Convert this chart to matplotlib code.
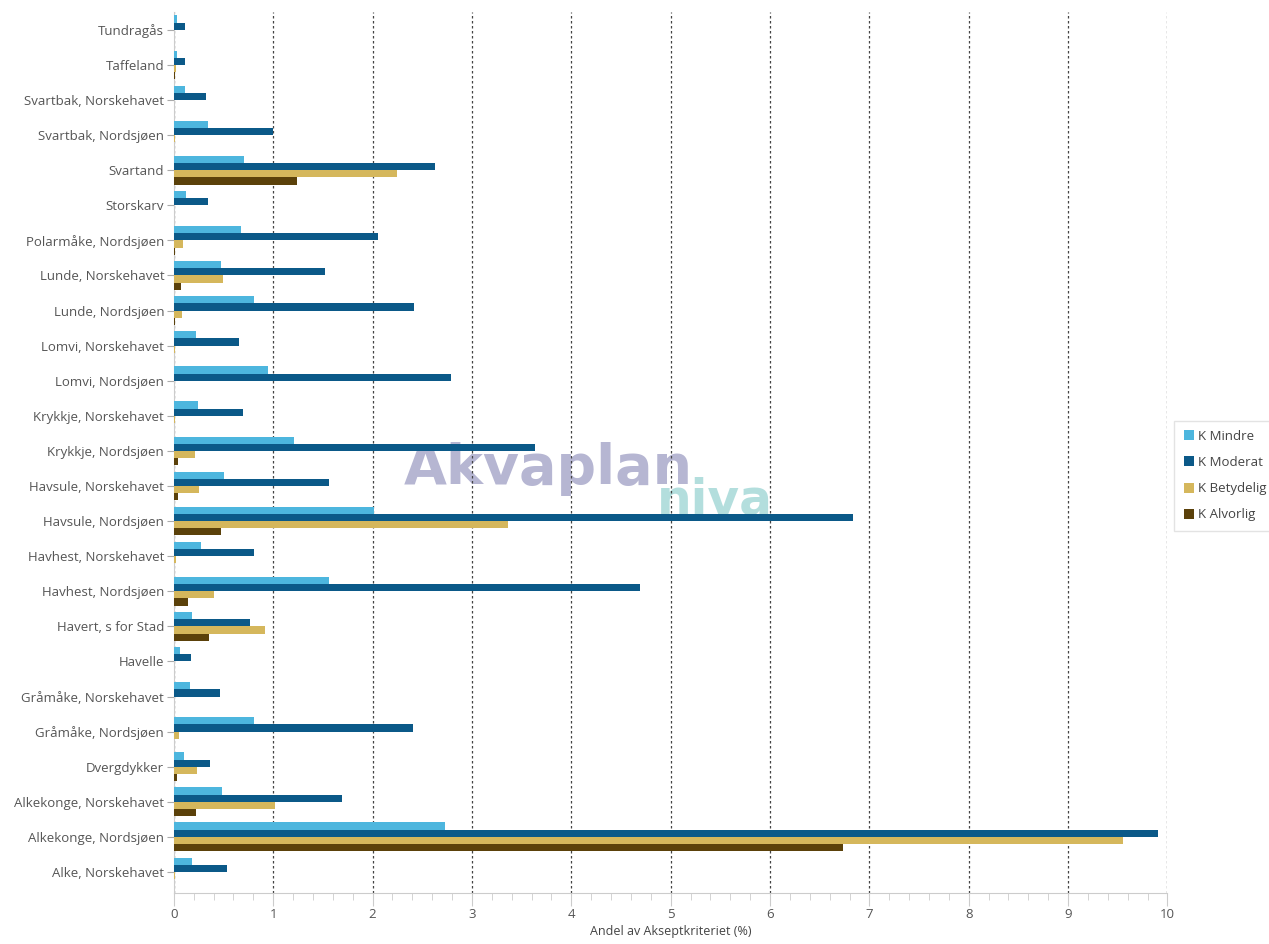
import matplotlib
matplotlib.use("Agg")
import matplotlib.pyplot as plt
import numpy as np
from matplotlib.ticker import MultipleLocator

plt.rcParams['font.family'] = ['Open Sans', 'DejaVu Sans']

categories = ["Alke, Norskehavet", "Alkekonge, Nordsjøen", "Alkekonge, Norskehavet",
              "Dvergdykker", "Gråmåke, Nordsjøen", "Gråmåke, Norskehavet", "Havelle",
              "Havert, s for Stad", "Havhest, Nordsjøen", "Havhest, Norskehavet",
              "Havsule, Nordsjøen", "Havsule, Norskehavet", "Krykkje, Nordsjøen",
              "Krykkje, Norskehavet", "Lomvi, Nordsjøen", "Lomvi, Norskehavet",
              "Lunde, Nordsjøen", "Lunde, Norskehavet", "Polarmåke, Nordsjøen",
              "Storskarv", "Svartand", "Svartbak, Nordsjøen", "Svartbak, Norskehavet",
              "Taffeland", "Tundragås"]

k_mindre = [0.18, 2.73, 0.48, 0.10, 0.81, 0.16, 0.06, 0.18, 1.56, 0.27,
            2.01, 0.50, 1.21, 0.24, 0.95, 0.22, 0.81, 0.47, 0.68, 0.12,
            0.71, 0.34, 0.11, 0.03, 0.03]
k_moderat = [0.53, 9.90, 1.69, 0.36, 2.41, 0.46, 0.17, 0.77, 4.69, 0.81,
             6.84, 1.56, 3.63, 0.70, 2.79, 0.66, 2.42, 1.52, 2.05, 0.34,
             2.63, 1.00, 0.32, 0.11, 0.11]
k_betydelig = [0.01, 9.55, 1.02, 0.23, 0.05, 0.0, 0.0, 0.92, 0.40, 0.02,
               3.36, 0.25, 0.21, 0.01, 0.0, 0.01, 0.08, 0.49, 0.09, 0.0,
               2.25, 0.01, 0.0, 0.02, 0.0]
k_alvorlig = [0.0, 6.73, 0.22, 0.03, 0.0, 0.0, 0.0, 0.35, 0.14, 0.0,
              0.47, 0.04, 0.04, 0.0, 0.0, 0.0, 0.01, 0.07, 0.01, 0.0,
              1.24, 0.0, 0.0, 0.01, 0.0]

series_names = ["K Mindre", "K Moderat", "K Betydelig", "K Alvorlig"]
series_values = [k_mindre, k_moderat, k_betydelig, k_alvorlig]
colors = ["#4DB6DE", "#0B5988", "#D5B75C", "#5B410A"]

fig = plt.figure(figsize=(12.69, 9.44), dpi=100)
ax = fig.add_axes([0.137, 0.054, 0.783, 0.933])

# watermark (behind bars)
ax.text(0.318, 0.487, "Akvaplan", fontsize=40, fontweight='heavy', color="#A9A9CB",
        alpha=0.85, zorder=0, transform=fig.transFigure, family='DejaVu Sans')
ax.text(0.518, 0.455, "niva", fontsize=35, fontweight='heavy', color="#A6D9D8",
        alpha=0.85, zorder=0, transform=fig.transFigure, family='DejaVu Sans')

y = np.arange(len(categories))
h = 0.205
offsets = [1.5 * h, 0.5 * h, -0.5 * h, -1.5 * h]
for name, vals, c, off in zip(series_names, series_values, colors, offsets):
    ax.barh(y + off, vals, height=h, color=c, label=name, zorder=3, linewidth=0)

ax.set_xlim(0, 10)
ax.set_ylim(-0.6, 24.5)
ax.set_yticks(y)
ax.set_yticklabels(categories, fontsize=9.5, color="#555555")
ax.xaxis.set_major_locator(MultipleLocator(1))
ax.xaxis.set_minor_locator(MultipleLocator(0.2))
ax.tick_params(axis='x', which='major', length=9, color="#CCCCCC", labelsize=9.5,
               labelcolor="#555555", pad=2)
ax.tick_params(axis='x', which='minor', length=5, color="#CCCCCC")
ax.tick_params(axis='y', length=5, color="#AAAAAA", pad=2)
ax.grid(axis='x', which='major', linestyle=(0, (2, 2)), color="#444444", linewidth=0.9, zorder=1)
ax.set_axisbelow(True)
for s in ['top', 'right']:
    ax.spines[s].set_visible(False)
ax.spines['left'].set_color("#CCCCCC")
ax.spines['bottom'].set_color("#CCCCCC")
ax.set_xlabel("Andel av Akseptkriteriet (%)", fontsize=9, color="#444444", labelpad=3)

leg = ax.legend(loc='center left', bbox_to_anchor=(1.003, 0.474), fontsize=9.5,
                frameon=True, fancybox=False, edgecolor="#DDDDDD", handlelength=0.8,
                handleheight=0.8, handletextpad=0.3, labelspacing=1.0, borderpad=0.7,
                borderaxespad=0.3)
for t in leg.get_texts():
    t.set_color("#444444")

fig.savefig("out.png", dpi=100)
